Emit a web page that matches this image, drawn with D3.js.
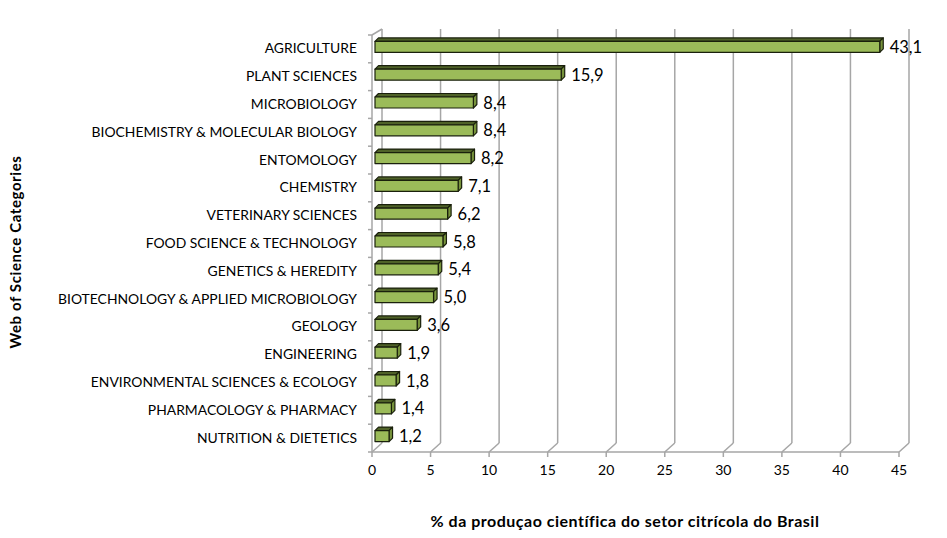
<!DOCTYPE html>
<html><head><meta charset="utf-8">
<script src="https://cdn.jsdelivr.net/npm/d3@7"></script>
<style>body{margin:0;background:#fff}svg{display:block}text{font-family:Lato,"Open Sans",sans-serif}</style>
</head><body>
<svg id="c" width="947" height="538"></svg>
<script>
const categories = ["AGRICULTURE","PLANT SCIENCES","MICROBIOLOGY","BIOCHEMISTRY & MOLECULAR BIOLOGY","ENTOMOLOGY","CHEMISTRY","VETERINARY SCIENCES","FOOD SCIENCE & TECHNOLOGY","GENETICS & HEREDITY","BIOTECHNOLOGY & APPLIED MICROBIOLOGY","GEOLOGY","ENGINEERING","ENVIRONMENTAL SCIENCES & ECOLOGY","PHARMACOLOGY & PHARMACY","NUTRITION & DIETETICS"];
const values = [43.1,15.9,8.4,8.4,8.2,7.1,6.2,5.8,5.4,5.0,3.6,1.9,1.8,1.4,1.2];
const xTicks = [0,5,10,15,20,25,30,35,40,45];
const xTitle = "% da produçao científica do setor citrícola do Brasil";
const yTitle = "Web of Science Categories";

const svg = d3.select("#c");
const x = d3.scaleLinear().domain([0,45]).range([372,899]);
const y = d3.scaleBand().domain(categories).range([35,452]);
const floorY = 452, topY = 29, DX = 10, DY = -9;
const grid = "#a6a6a6";

const g = svg.append("g");
xTicks.forEach(t => {
  const xx = x(t);
  g.append("line").attr("x1",xx+DX).attr("y1",floorY+DY).attr("x2",xx+DX).attr("y2",topY)
    .attr("stroke",grid).attr("stroke-width",1.5);
  g.append("line").attr("x1",xx).attr("y1",floorY).attr("x2",xx+DX).attr("y2",floorY+DY)
    .attr("stroke",grid).attr("stroke-width",1.5);
});
g.append("line").attr("x1",x(0)).attr("x2",x(45)).attr("y1",floorY).attr("y2",floorY)
  .attr("stroke",grid).attr("stroke-width",1.5);
xTicks.forEach(t => {
  g.append("line").attr("x1",x(t)).attr("x2",x(t)).attr("y1",floorY).attr("y2",floorY+5)
    .attr("stroke",grid).attr("stroke-width",1.5);
  g.append("text").attr("x",x(t)).attr("y",471).attr("text-anchor","middle")
    .attr("dominant-baseline","middle").attr("font-size",14).attr("fill","#000").text(t);
});
g.append("line").attr("x1",x(0)).attr("x2",x(0)).attr("y1",y.range()[0]).attr("y2",floorY)
  .attr("stroke",grid).attr("stroke-width",1.5);
g.append("line").attr("x1",x(0)).attr("x2",x(0)+DX).attr("y1",y.range()[0]).attr("y2",topY)
  .attr("stroke",grid).attr("stroke-width",1.5);
d3.range(categories.length+1).forEach(i => {
  const yy = y.range()[0] + i*y.step();
  g.append("line").attr("x1",x(0)-4).attr("x2",x(0)).attr("y1",yy).attr("y2",yy)
    .attr("stroke",grid).attr("stroke-width",1.5);
});

const bx = 3, by = -2, d = 3.5, h = 11;
const bars = svg.append("g").attr("stroke","#1a200c").attr("stroke-width",1.2).attr("stroke-linejoin","round");
categories.forEach((c,i) => {
  const v = values[i];
  const x0 = x(0)+bx, x1 = x(v)+bx;
  const yt = y(c) + y.bandwidth()/2 + by - h/2, yb = yt + h;
  bars.append("polygon").attr("points",[[x0,yt],[x0+d,yt-d],[x1+d,yt-d],[x1,yt]].join(" ")).attr("fill","#4f6228");
  bars.append("polygon").attr("points",[[x1,yt],[x1+d,yt-d],[x1+d,yb-d],[x1,yb]].join(" ")).attr("fill","#77933c");
  bars.append("rect").attr("x",x0).attr("y",yt).attr("width",x1-x0).attr("height",h).attr("fill","#9bbb59");
  svg.append("text").attr("x",x1+10).attr("y",yt+h/2+2).attr("dominant-baseline","middle")
    .attr("font-size",16.5).attr("fill","#000").text(d3.format(".1f")(v).replace(".",","));
  svg.append("text").attr("x",357).attr("y",y(c)+y.bandwidth()/2+1).attr("text-anchor","end")
    .attr("dominant-baseline","middle").attr("font-size",13.9).attr("fill","#000").text(c);
});

svg.append("text").attr("transform","translate(17,252) rotate(-90)").attr("text-anchor","middle")
  .attr("dominant-baseline","middle").attr("font-size",15).attr("font-weight","bold")
  .attr("letter-spacing",0.6).text(yTitle);
svg.append("text").attr("x",625).attr("y",523).attr("text-anchor","middle")
  .attr("dominant-baseline","middle").attr("font-size",16).attr("font-weight","bold")
  .attr("letter-spacing",0.5).text(xTitle);
</script>
</body></html>
